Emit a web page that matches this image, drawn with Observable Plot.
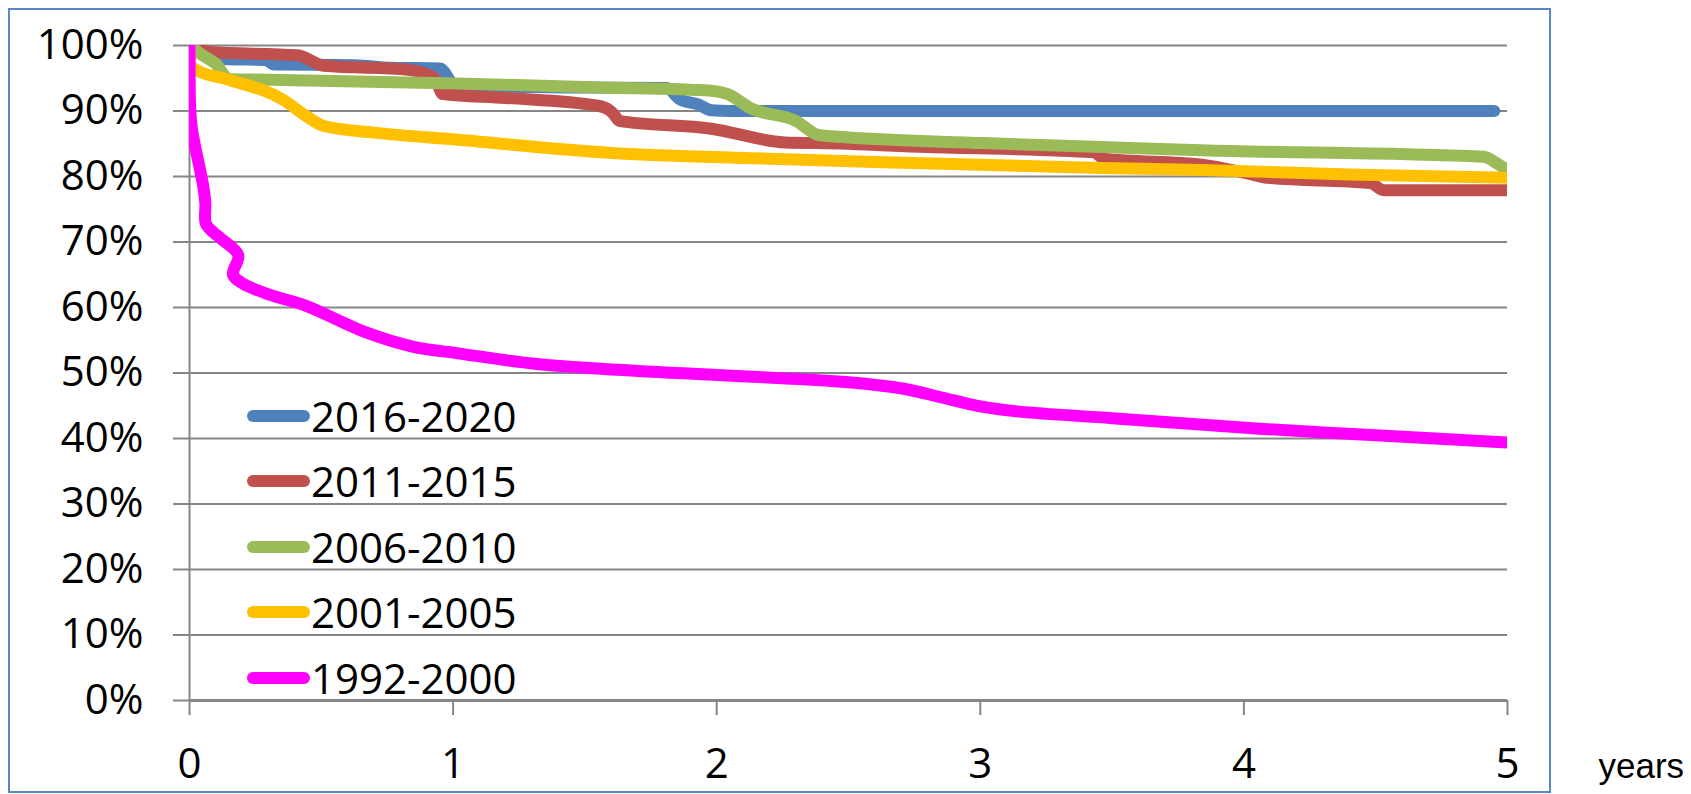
<!DOCTYPE html>
<html>
<head>
<meta charset="utf-8">
<script src="https://cdn.jsdelivr.net/npm/d3@7"></script>
<script src="https://cdn.jsdelivr.net/npm/@observablehq/plot@0.6"></script>
<style>
  html, body { margin: 0; padding: 0; background: #fff; }
  #wrap { position: relative; width: 1691px; height: 794px; overflow: hidden; font-family: "Open Sans", sans-serif; }
  #border { position: absolute; left: 8px; top: 8px; width: 1539px; height: 781px; border: 2px solid #5a88c4; pointer-events: none; }
  #legend { position: absolute; left: 247px; top: 383px; }
  .row { display: flex; align-items: center; height: 65.5px; }
  .sw { width: 63px; height: 12px; border-radius: 6px; }
  .lb { font-size: 42px; line-height: 1; color: #000; margin-left: 1px; }
</style>
</head>
<body>
<div id="wrap"></div>
<script>
// ---- data ----
const seriesNames = ["2016-2020", "2011-2015", "2006-2010", "2001-2005", "1992-2000"];
const yTicks = [0, 0.1, 0.2, 0.3, 0.4, 0.5, 0.6, 0.7, 0.8, 0.9, 1.0];
const xTicks = [0, 1, 2, 3, 4, 5];

const t2016 = [0, 0.06, 0.146, 0.29, 0.32, 0.63, 0.76, 0.95, 1.01, 1.5, 1.81, 1.86, 1.93, 1.98, 2.05, 4.95];
const v2016 = [1.0, 0.986, 0.979, 0.978, 0.971, 0.970, 0.966, 0.965, 0.938, 0.936, 0.935, 0.918, 0.91, 0.901, 0.90, 0.90];

const t2011 = [0, 0.03, 0.08, 0.41, 0.51, 0.83, 0.93, 0.96, 1.2, 1.55, 1.59, 1.61, 1.63, 1.98, 2.26, 2.39, 2.8, 3.43, 3.47, 3.84, 4.0, 4.09, 4.48, 4.53, 5.0];
const v2011 = [1.0, 0.995, 0.99, 0.985, 0.969, 0.963, 0.95, 0.926, 0.92, 0.908, 0.902, 0.895, 0.885, 0.873, 0.852, 0.851, 0.845, 0.837, 0.827, 0.818, 0.806, 0.798, 0.79, 0.779, 0.779];

const t2006 = [0, 0.05, 0.1, 0.15, 0.25, 1.02, 1.56, 1.98, 2.04, 2.13, 2.30, 2.39, 3.01, 3.46, 3.84, 4.91, 4.96, 5.0];
const v2006 = [1.0, 0.985, 0.972, 0.949, 0.948, 0.942, 0.936, 0.931, 0.926, 0.904, 0.885, 0.863, 0.851, 0.845, 0.840, 0.830, 0.82, 0.809];

const t2001 = [0, 0.003, 0.03, 0.146, 0.36, 0.44, 0.51, 0.7, 1.02, 1.6, 2.13, 2.6, 3.46, 3.84, 4.4, 5.0];
const v2001 = [1.0, 0.97, 0.962, 0.948, 0.916, 0.893, 0.877, 0.867, 0.856, 0.836, 0.828, 0.822, 0.813, 0.81, 0.803, 0.798];

const t1992 = [0, 0.003, 0.01, 0.027, 0.05, 0.06, 0.062, 0.09, 0.12, 0.185, 0.165, 0.2, 0.3, 0.44, 0.67, 0.85, 1.02, 1.31, 1.7, 2.0, 2.5, 2.71, 2.85, 3.0, 3.15, 3.5, 4.06, 4.5, 5.0];
const v1992 = [1.0, 0.90, 0.87, 0.835, 0.79, 0.76, 0.728, 0.715, 0.705, 0.68, 0.65, 0.637, 0.62, 0.603, 0.562, 0.54, 0.53, 0.514, 0.503, 0.497, 0.486, 0.476, 0.463, 0.449, 0.441, 0.431, 0.415, 0.405, 0.394];

// ---- styles ----
const colors = ["#4F81BD", "#C0504D", "#9BBB59", "#FFC000", "#FF00FF"];

const seriesT = [t2016, t2011, t2006, t2001, t1992];
const seriesV = [v2016, v2011, v2006, v2001, v1992];
const rows = [];
seriesNames.forEach((name, i) => {
  seriesT[i].forEach((t, j) => rows.push({series: name, t, v: seriesV[i][j]}));
});
const lastName = seriesNames[seriesNames.length - 1];
const rowsMain = rows.filter(d => d.series !== lastName);
const rowsLast = rows.filter(d => d.series === lastName);

const grid = "#868686";
const chart = Plot.plot({
  width: 1691,
  height: 794,
  marginLeft: 189,
  marginRight: 184,
  marginTop: 45,
  marginBottom: 94,
  style: {fontFamily: "'Open Sans', sans-serif", fontSize: "42px", color: "#000", background: "transparent", overflow: "visible"},
  x: {domain: [0, 5], axis: null},
  y: {domain: [0, 1], axis: null},
  color: {domain: seriesNames, range: colors},
  marks: [
    Plot.gridY(yTicks, {stroke: grid, strokeOpacity: 1, strokeWidth: 2}),
    Plot.axisY(yTicks, {label: null, tickSize: 16, tickPadding: 30, tickFormat: d3.format(".0%"), stroke: grid, strokeWidth: 2, fontSize: 42, fill: "#000"}),
    Plot.axisX(xTicks, {label: null, tickSize: 15, tickPadding: 33, tickFormat: d3.format("d"), stroke: grid, strokeWidth: 2, fontSize: 42, fill: "#000"}),
    Plot.ruleX([0], {stroke: grid, strokeWidth: 2}),
    Plot.ruleY([0], {stroke: grid, strokeWidth: 3}),
    Plot.line(rowsMain, {x: "t", y: "v", z: "series", stroke: "series", strokeWidth: 12, curve: "monotone-x", clip: true}),
    Plot.line(rowsLast, {x: "t", y: "v", z: "series", stroke: "series", strokeWidth: 12, curve: "catmull-rom", clip: true}),
    Plot.text(["years"], {frameAnchor: "bottom-right", lineAnchor: "middle", dx: 91, dy: 66, textAnchor: "start", fontSize: 35, fill: "#000", fontFamily: "'Liberation Sans', Arial, sans-serif"})
  ]
});

const wrap = document.getElementById("wrap");
wrap.appendChild(chart);
const border = document.createElement("div");
border.id = "border";
wrap.appendChild(border);

const legend = document.createElement("div");
legend.id = "legend";
seriesNames.forEach((name, i) => {
  const r = document.createElement("div");
  r.className = "row";
  const sw = document.createElement("div");
  sw.className = "sw";
  sw.style.background = colors[i];
  const lb = document.createElement("span");
  lb.className = "lb";
  lb.textContent = name;
  r.appendChild(sw);
  r.appendChild(lb);
  legend.appendChild(r);
});
wrap.appendChild(legend);
</script>
</body>
</html>
